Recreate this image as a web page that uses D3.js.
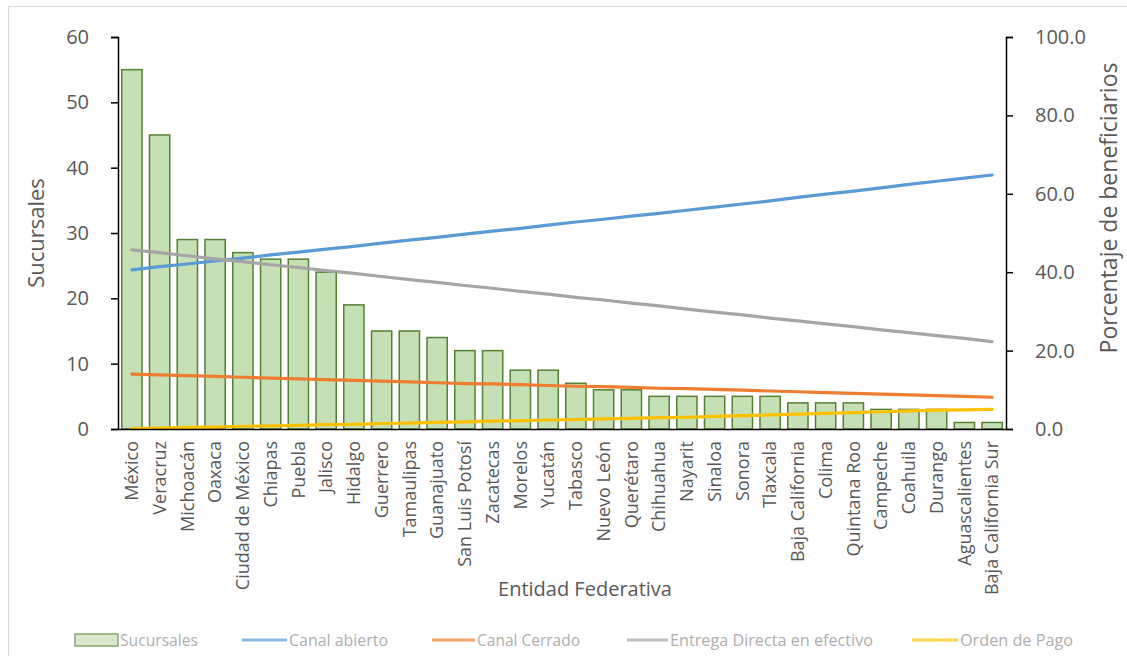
<!DOCTYPE html>
<html>
<head>
<meta charset="utf-8">
<script src="https://cdn.jsdelivr.net/npm/d3@7"></script>
<style>
  body { margin: 0; background: #fff; }
  svg { display: block; font-family: 'Open Sans', sans-serif; }
</style>
</head>
<body>
<svg id="chart"></svg>
<script>
// Categories (entidades) and values
const entidades = ['México', 'Veracruz', 'Michoacán', 'Oaxaca', 'Ciudad de México', 'Chiapas', 'Puebla',
  'Jalisco', 'Hidalgo', 'Guerrero', 'Tamaulipas', 'Guanajuato', 'San Luis Potosí', 'Zacatecas', 'Morelos',
  'Yucatán', 'Tabasco', 'Nuevo León', 'Querétaro', 'Chihuahua', 'Nayarit', 'Sinaloa', 'Sonora', 'Tlaxcala',
  'Baja California', 'Colima', 'Quintana Roo', 'Campeche', 'Coahuila', 'Durango', 'Aguascalientes',
  'Baja California Sur'];

const sucursales = [55, 45, 29, 29, 27, 26, 26, 24, 19, 15, 15, 14, 12, 12, 9, 9, 7, 6, 6, 5, 5, 5, 5, 5,
  4, 4, 4, 3, 3, 3, 1, 1];

const canalAbierto = [40.6, 41.4, 42.1, 42.9, 43.6, 44.4, 45.1, 45.9, 46.6, 47.4, 48.2, 48.9, 49.7, 50.5,
  51.2, 52.0, 52.8, 53.5, 54.3, 55.0, 55.8, 56.6, 57.4, 58.2, 59.1, 59.9, 60.7, 61.5, 62.4, 63.2, 64.0, 64.8];

const canalCerrado = [14.0, 13.8, 13.6, 13.4, 13.2, 13.0, 12.8, 12.6, 12.4, 12.2, 12.0, 11.8, 11.6, 11.5,
  11.3, 11.1, 10.9, 10.8, 10.6, 10.4, 10.3, 10.1, 9.9, 9.7, 9.5, 9.3, 9.1, 8.9, 8.7, 8.5, 8.3, 8.1];

const entregaDirecta = [45.7, 45.0, 44.2, 43.4, 42.7, 41.9, 41.2, 40.4, 39.7, 38.9, 38.1, 37.4, 36.6, 35.9,
  35.1, 34.4, 33.6, 32.9, 32.1, 31.4, 30.6, 29.8, 29.1, 28.3, 27.6, 26.8, 26.1, 25.3, 24.6, 23.8, 23.1, 22.3];

const ordenPago = [0.1, 0.2, 0.4, 0.5, 0.7, 0.8, 0.9, 1.1, 1.2, 1.4, 1.5, 1.7, 1.8, 2.0, 2.1, 2.3, 2.4, 2.6,
  2.7, 2.9, 3.0, 3.2, 3.4, 3.6, 3.8, 4.0, 4.2, 4.4, 4.6, 4.8, 4.9, 5.0];

const leftTicks = [0, 10, 20, 30, 40, 50, 60];
const rightTicks = [0, 20, 40, 60, 80, 100];

const width = 1127;
const height = 656;
const plot = { left: 118, right: 1006, top: 37, bottom: 429 };

const svg = d3.select('#chart').attr('width', width).attr('height', height);

svg.append('rect').attr('width', width).attr('height', height).attr('fill', '#fff');
// chart area border
svg.append('rect')
   .attr('x', 8.5).attr('y', 6.5)
   .attr('width', width + 10).attr('height', height + 10)
   .attr('fill', 'none').attr('stroke', '#d9d9d9');

const x = d3.scaleBand().domain(entidades).range([plot.left, plot.right]).paddingInner(0.27).paddingOuter(0.135);
const yLeft = d3.scaleLinear().domain([0, 60]).range([plot.bottom, plot.top]);
const yRight = d3.scaleLinear().domain([0, 100]).range([plot.bottom, plot.top]);

// bars
svg.append('g').selectAll('rect')
   .data(sucursales)
   .join('rect')
   .attr('x', (d, i) => x(entidades[i]))
   .attr('y', d => yLeft(d))
   .attr('width', x.bandwidth())
   .attr('height', d => yLeft(0) - yLeft(d))
   .attr('fill', '#c5e0b4')
   .attr('stroke', '#548235')
   .attr('stroke-width', 1.5);

// lines on the secondary axis
const series = [
  { name: 'Canal abierto', values: canalAbierto, color: '#5b9bd5' },
  { name: 'Canal Cerrado', values: canalCerrado, color: '#ed7d31' },
  { name: 'Entrega Directa en efectivo', values: entregaDirecta, color: '#a5a5a5' },
  { name: 'Orden de Pago', values: ordenPago, color: '#ffc000' },
];

const line = d3.line()
  .x((d, i) => x(entidades[i]) + x.bandwidth() / 2)
  .y(d => yRight(d));

series.forEach(s => {
  svg.append('path')
     .attr('d', line(s.values))
     .attr('fill', 'none')
     .attr('stroke', s.color)
     .attr('stroke-width', 3.2)
     .attr('stroke-linecap', 'round');
});

// left axis
const gl = svg.append('g')
  .attr('transform', `translate(${plot.left},0)`)
  .call(d3.axisLeft(yLeft).tickValues(leftTicks).tickSize(7).tickPadding(22));
// right axis
const gr = svg.append('g')
  .attr('transform', `translate(${plot.right},0)`)
  .call(d3.axisRight(yRight).tickValues(rightTicks).tickSize(7).tickPadding(22).tickFormat(d3.format('.1f')));

[gl, gr].forEach(g => {
  g.select('.domain').attr('stroke', '#000').attr('stroke-width', 1.5);
  g.selectAll('.tick line').attr('stroke', '#000').attr('stroke-width', 1.5);
  g.selectAll('.tick text').attr('fill', '#595959').style('font-size', '20px').style('font-family', "'Open Sans', sans-serif");
});

// bottom axis
const gb = svg.append('g')
  .attr('transform', `translate(0,${plot.bottom})`)
  .call(d3.axisBottom(x).tickSize(0).tickPadding(10));
gb.select('.domain').attr('stroke', '#000').attr('stroke-width', 1.5);
gb.selectAll('.tick text')
  .attr('fill', '#595959')
  .style('font-size', '18px')
  .style('font-family', "'Open Sans', sans-serif")
  .attr('transform', 'rotate(-90)')
  .attr('text-anchor', 'end')
  .attr('x', -12)
  .attr('y', 0)
  .attr('dy', '0.35em');

// axis titles
svg.append('text')
   .attr('transform', 'translate(44,233) rotate(-90)')
   .attr('text-anchor', 'middle')
   .attr('fill', '#595959')
   .style('font-size', '22px')
   .text('Sucursales');

svg.append('text')
   .attr('transform', 'translate(1117,208) rotate(-90)')
   .attr('text-anchor', 'middle')
   .attr('fill', '#595959')
   .style('font-size', '23px')
   .text('Porcentaje de beneficiarios');

svg.append('text')
   .attr('x', 585).attr('y', 596)
   .attr('text-anchor', 'middle')
   .attr('fill', '#595959')
   .style('font-size', '20px')
   .text('Entidad Federativa');

// legend
const legendItems = [
  { name: 'Sucursales', type: 'bar', x0: 75, x1: 118, tx: 120, tw: 78 },
  { name: series[0].name, color: series[0].color, x0: 242, x1: 287, tx: 289, tw: 99 },
  { name: series[1].name, color: series[1].color, x0: 432, x1: 475, tx: 477, tw: 103 },
  { name: series[2].name, color: series[2].color, x0: 627, x1: 668, tx: 670, tw: 203 },
  { name: series[3].name, color: series[3].color, x0: 912, x1: 958, tx: 960, tw: 113 },
];
const legendY = 640;
const lg = svg.append('g').attr('opacity', 0.7);
legendItems.forEach(item => {
  if (item.type === 'bar') {
    lg.append('rect')
      .attr('x', item.x0).attr('y', legendY - 6)
      .attr('width', item.x1 - item.x0).attr('height', 12)
      .attr('fill', '#c5e0b4').attr('stroke', '#548235').attr('stroke-width', 1.5);
  } else {
    lg.append('line')
      .attr('x1', item.x0).attr('x2', item.x1)
      .attr('y1', legendY).attr('y2', legendY)
      .attr('stroke', item.color).attr('stroke-width', 3);
  }
  lg.append('text')
    .attr('x', item.tx)
    .attr('y', legendY)
    .attr('dy', '0.35em')
    .attr('fill', '#8c8c8c')
    .attr('textLength', item.tw)
    .attr('lengthAdjust', 'spacingAndGlyphs')
    .style('font-size', '16px')
    .text(item.name);
});
</script>
</body>
</html>
